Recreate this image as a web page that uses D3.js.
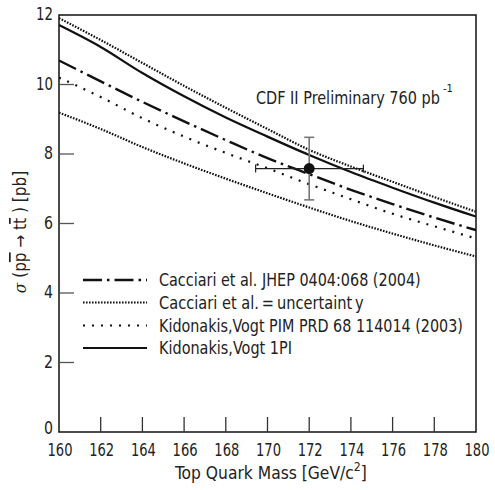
<!DOCTYPE html>
<html><head><meta charset="utf-8">
<script src="https://cdn.jsdelivr.net/npm/d3@7"></script>
<style>
html,body{margin:0;padding:0;background:#fff;}
svg text{font-family:"Liberation Sans Narrow","DejaVu Sans Condensed","DejaVu Sans",sans-serif;font-stretch:condensed;fill:#222;}
</style></head>
<body>
<svg id="c" width="495" height="490"></svg>
<script>
const masses = [160,162,164,166,168,170,172,174,176,178,180];
const cacciariCentral = [10.69,10.09,9.50,8.94,8.40,7.88,7.42,6.97,6.56,6.17,5.81];
const cacciariUpper   = [11.91,11.28,10.62,9.96,9.33,8.72,8.12,7.64,7.20,6.76,6.34];
const cacciariLower   = [9.19,8.72,8.20,7.73,7.29,6.87,6.46,6.07,5.71,5.37,5.05];
const kidonakisPIM    = [10.20,9.64,9.03,8.50,8.03,7.59,7.13,6.70,6.28,5.92,5.57];
const kidonakis1PI    = [11.71,11.08,10.33,9.66,9.05,8.50,7.97,7.48,7.03,6.60,6.20];
const measurement = {mass:172.0, xs:7.58, massLo:169.43, massHi:174.6, xsLo:6.68, xsHi:8.48};
const xTicks = [160,162,164,166,168,170,172,174,176,178,180];
const yTicks = [0,2,4,6,8,10,12];
const legendLabels = ["Cacciari et al. JHEP 0404:068 (2004)","Cacciari et al.\u2009=\u2009uncertaint\u2009y","Kidonakis,Vogt PIM PRD 68 114014 (2003)","Kidonakis,Vogt 1PI"];

const svg = d3.select("#c");
const L=59, R=476, T=15, B=432;
const x = d3.scaleLinear().domain([160,180]).range([L,R]);
const y = d3.scaleLinear().domain([0,12]).range([B,T]);

// place a text at (px,py) and squeeze it horizontally to width tw
function fit(t, px, py, tw){
  const w = t.node().getComputedTextLength();
  const s = w>0 ? tw/w : 1;
  t.attr("x",0).attr("y",0).attr("transform",`translate(${px},${py}) scale(${s},1)`);
  return t;
}

const styles = {
  central:{w:2.4, dash:"19,5,2.5,5"},
  unc:{w:2.2, dash:"1.6,1.4"},
  pim:{w:2.2, dash:"2,7"},
  solid:{w:2.2, dash:null}
};
const series = [
  {vals:cacciariUpper, s:styles.unc},
  {vals:cacciariLower, s:styles.unc},
  {vals:cacciariCentral, s:styles.central},
  {vals:kidonakisPIM, s:styles.pim},
  {vals:kidonakis1PI, s:styles.solid}
];
const line = d3.line().x((d,i)=>x(masses[i])).y(d=>y(d)).curve(d3.curveMonotoneX);
svg.append("clipPath").attr("id","pc").append("rect").attr("x",L).attr("y",T).attr("width",R-L).attr("height",B-T);
const g = svg.append("g").attr("clip-path","url(#pc)");
series.forEach(sr=>{
  g.append("path").attr("d",line(sr.vals)).attr("fill","none").attr("stroke","#111")
   .attr("stroke-width",sr.s.w).attr("stroke-dasharray",sr.s.dash);
});

// frame
svg.append("rect").attr("x",L).attr("y",T).attr("width",R-L).attr("height",B-T)
  .attr("fill","none").attr("stroke","#111").attr("stroke-width",1.5);

// ticks
svg.append("g").selectAll("line").data(xTicks.slice(1,-1)).join("line")
  .attr("x1",d=>x(d)).attr("x2",d=>x(d)).attr("y1",B).attr("y2",B-15)
  .attr("stroke","#333").attr("stroke-width",1.3);
svg.append("g").selectAll("line").data(yTicks.slice(1,-1)).join("line")
  .attr("y1",d=>y(d)).attr("y2",d=>y(d)).attr("x1",L).attr("x2",L+15)
  .attr("stroke","#555").attr("stroke-width",1.3);
const xl = svg.append("g");
xTicks.forEach(d=>{
  const t = xl.append("text").attr("text-anchor","middle").attr("font-size",17).text(d);
  fit(t, x(d)+1, B+24, 25);
});
const yl = svg.append("g");
yTicks.forEach(d=>{
  const t = yl.append("text").attr("text-anchor","end").attr("font-size",17).text(d);
  fit(t, L-6, y(d)+(d===0?2:5), d>=10?17:9);
});

// axis titles
const xt = svg.append("text").attr("font-size",17);
xt.append("tspan").text("Top  Quark  Mass  [GeV/c");
xt.append("tspan").attr("font-size",12).attr("dy",-8).text("2");
xt.append("tspan").attr("dy",8).text("]");
fit(xt, 175, 479, 192);

const yt = svg.append("text").attr("transform","translate(26,232) rotate(-90)")
  .attr("text-anchor","middle").attr("font-size",17);
yt.append("tspan").attr("font-style","italic").attr("font-family","DejaVu Serif, serif").text("\u03C3");
yt.append("tspan").text(" (p");
yt.append("tspan").attr("text-decoration","overline").text("p");
yt.append("tspan").text(" \u2192 t");
yt.append("tspan").attr("text-decoration","overline").text("t");
yt.append("tspan").text(" ) [pb]");

// CDF label
fit(svg.append("text").attr("font-size",18).text("CDF II Preliminary 760 pb"), 256, 104, 184);
svg.append("text").attr("x",443).attr("y",92).attr("font-size",11).text("-1");

// measurement
const m = measurement;
svg.append("line").attr("x1",x(m.massLo)).attr("x2",x(m.massHi)).attr("y1",y(m.xs)).attr("y2",y(m.xs)).attr("stroke","#222").attr("stroke-width",1.2);
[m.massLo,m.massHi].forEach(v=>svg.append("line").attr("x1",x(v)).attr("x2",x(v)).attr("y1",y(m.xs)-4).attr("y2",y(m.xs)+4).attr("stroke","#222").attr("stroke-width",1.2));
svg.append("line").attr("x1",x(m.mass)).attr("x2",x(m.mass)).attr("y1",y(m.xsLo)).attr("y2",y(m.xsHi)).attr("stroke","#777").attr("stroke-width",1.6);
[m.xsLo,m.xsHi].forEach(v=>svg.append("line").attr("x1",x(m.mass)-5).attr("x2",x(m.mass)+5).attr("y1",y(v)).attr("y2",y(v)).attr("stroke","#777").attr("stroke-width",1.6));
svg.append("circle").attr("cx",x(m.mass)).attr("cy",y(m.xs)).attr("r",5.5).attr("fill","#111");

// legend
const legStyles = [styles.central, styles.unc, styles.pim, styles.solid];
const legY = [280,302.5,325.5,348];
const legW = [262,205,304,133];
legendLabels.forEach((lab,i)=>{
  svg.append("line").attr("x1",83).attr("x2",147).attr("y1",legY[i]).attr("y2",legY[i])
    .attr("stroke","#111").attr("stroke-width",legStyles[i].w).attr("stroke-dasharray",legStyles[i].dash);
  fit(svg.append("text").attr("font-size",18).text(lab), 159, legY[i]+6, legW[i]);
});
</script>
</body></html>
